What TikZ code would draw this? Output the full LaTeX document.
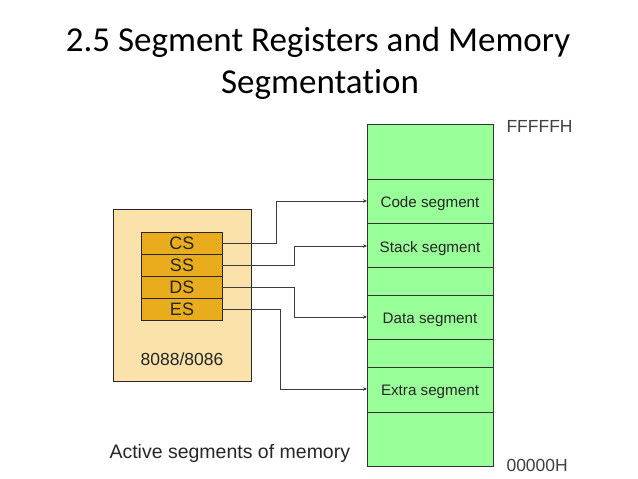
\documentclass[tikz,border=0pt]{standalone}
\usepackage{fontspec}
\setmainfont{Liberation Sans}
\newfontfamily\titlefont[Ligatures=NoCommon,Contextuals=NoAlternate,RawFeature={-liga;-clig;-dlig}]{Carlito}
\usetikzlibrary{arrows.meta}
\definecolor{memgreen}{RGB}{153,255,153}
\definecolor{cpufill}{RGB}{250,226,170}
\definecolor{regfill}{RGB}{232,172,28}
\definecolor{wire}{RGB}{60,60,60}
\begin{document}
\begin{tikzpicture}[x=1pt,y=-1pt,
  cell/.style={draw=black!80,line width=0.9pt,fill=memgreen},
  regbox/.style={draw=black!85,line width=0.9pt,fill=regfill,minimum width=81pt,minimum height=22pt,inner sep=0pt},
  regtext/.style={anchor=base,font=\fontsize{18}{18}\selectfont,text=black!85},
  seglabel/.style={anchor=base,font=\fontsize{15.2}{15}\selectfont,text=black!85},
  addr/.style={font=\fontsize{17.5}{18}\selectfont,text=black!75,anchor=west},
  link/.style={draw=wire,line width=0.8pt,-{Stealth[length=4pt,width=3.5pt]}}]
\useasboundingbox (0,0) rectangle (638,479);
\fill[white] (0,0) rectangle (638,479);
% title
\node[anchor=base,font=\titlefont\fontsize{35}{35}\selectfont] (t1) at (318,52) {2.5 Segment Registers and Memory};
\node[anchor=base,font=\titlefont\fontsize{35}{35}\selectfont] (t2) at (320,93) {Segmentation};
% memory column
\draw[cell] (367,124) rectangle (493,179);
\draw[cell] (367,179) rectangle (493,223);
\draw[cell] (367,223) rectangle (493,267);
\draw[cell] (367,267) rectangle (493,295);
\draw[cell] (367,295) rectangle (493,339);
\draw[cell] (367,339) rectangle (493,367);
\draw[cell] (367,367) rectangle (493,412);
\draw[cell] (367,412) rectangle (493,466);
\node[seglabel] (code) at (430,207) {Code segment};
\node[seglabel] (stack) at (430,252) {Stack segment};
\node[seglabel] (data) at (430,323) {Data segment};
\node[seglabel] (extra) at (430,395) {Extra segment};
\coordinate (codein) at (367,201);
\coordinate (stackin) at (367,246);
\coordinate (datain) at (367,317);
\coordinate (extrain) at (367,389);
\node[addr] (top) at (503,126) {FFFFFH};
\node[addr] (bottom) at (503,465) {00000H};
% processor
\draw[draw=black!85,line width=0.9pt,fill=cpufill] (113,209) rectangle (251,381);
\node[regbox] (cs) at (181.5,243) {};
\node[regbox] (ss) at (181.5,265) {};
\node[regbox] (ds) at (181.5,287) {};
\node[regbox] (es) at (181.5,309) {};
\node[regtext] (cst) at (182,249) {CS};
\node[regtext] (sst) at (182,271) {SS};
\node[regtext] (dst) at (182,293) {DS};
\node[regtext] (est) at (182,315) {ES};
\node[anchor=base,font=\fontsize{17.5}{17}\selectfont,text=black!85] (cpu) at (182,365) {8088/8086};
% segment register links
\draw[link] (cs.east) -- (276,243) |- (codein);
\draw[link] (ss.east) -- (294,265) |- (stackin);
\draw[link] (ds.east) -- (294,287) |- (datain);
\draw[link] (es.east) -- (280,309) |- (extrain);
\node[anchor=base west,font=\fontsize{19.5}{20}\selectfont,text=black!85] (cap) at (106,458) {Active segments of memory};
\end{tikzpicture}
\end{document}
